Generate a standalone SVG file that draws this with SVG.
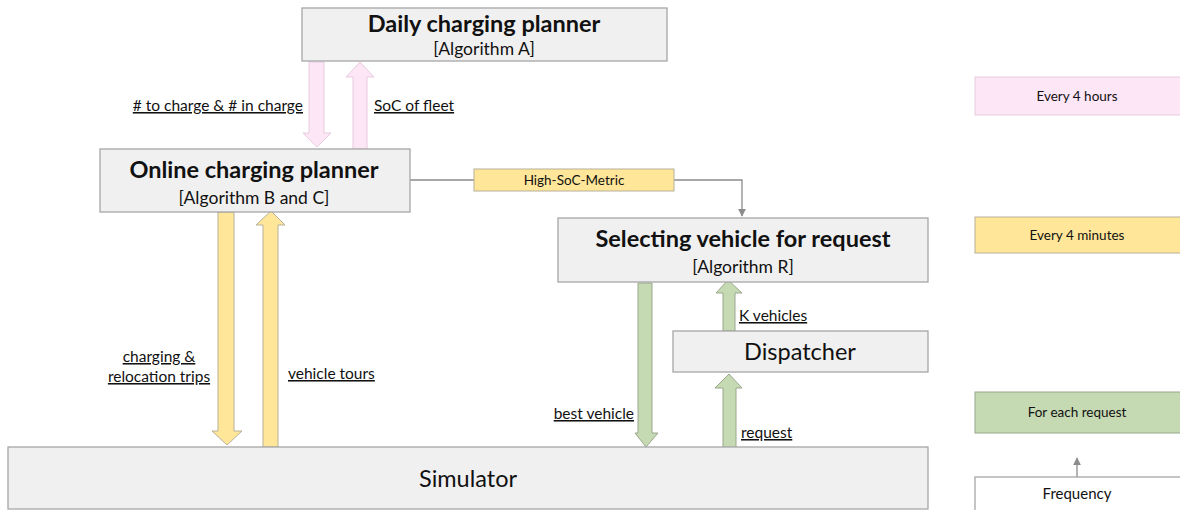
<svg xmlns="http://www.w3.org/2000/svg" width="1180" height="510" viewBox="0 0 1180 510">
<defs>
<style>
.box{fill:#f0f0f0;stroke:#a6a6a6;stroke-width:1.3}
.t{font-family:Lato,"Open Sans",sans-serif;fill:#111}
.title{font-size:23.5px;font-weight:bold;text-anchor:middle}
.sub{font-size:17.5px;text-anchor:middle}
.big{font-size:23.5px;text-anchor:middle}
.lbl{font-size:15.5px;text-decoration:underline}
.leg{font-size:13.5px;text-anchor:middle}
.pink{fill:#fde6f6;stroke:#e6cbdc;stroke-width:1}
.yel{fill:#ffe699;stroke:#b8b09a;stroke-width:1}
.grn{fill:#c5d9b2;stroke:#9aa88e;stroke-width:1}
.conn{fill:none;stroke:#8c8c8c;stroke-width:1.3}
</style>
<marker id="ah" viewBox="0 0 10 10" refX="9" refY="5" markerWidth="8" markerHeight="8" markerUnits="userSpaceOnUse" orient="auto">
<path d="M0,0 L10,5 L0,10 z" fill="#8c8c8c"/>
</marker>
</defs>

<g id="connectors">
<path class="conn" d="M410,180 H742 V216" marker-end="url(#ah)"/>
<rect x="474" y="169" width="200" height="22" class="yel"/>
<text x="574" y="185" class="t" style="font-size:13.5px;text-anchor:middle">High-SoC-Metric</text>
<path class="conn" d="M1077,477 V458" marker-end="url(#ah)"/>
<path class="pink" d="M309,62 H324 V133 H331 L317,147 L303,133 H309 Z"/>
<path class="pink" d="M360,62 L374,77 H367 V149 H353 V77 H346 Z"/>
<path class="yel" d="M218,212 H234 V431 H242 L227,445 L212,431 H218 Z"/>
<path class="yel" d="M271,211 L285,225 H278 V447 H263 V225 H256 Z"/>
<path class="grn" d="M638,283 H652 V433 H658 L646,447 L635,433 H638 Z"/>
<path class="grn" d="M728,280 L742,293 H735 V331 H723 V293 H716 Z"/>
<path class="grn" d="M729,374 L742,388 H736 V450 H723 V388 H715 Z"/>
</g>

<g id="labels">
<text x="303" y="111" class="t lbl" text-anchor="end"># to charge &amp; # in charge</text>
<text x="374" y="111" class="t lbl">SoC of fleet</text>
<text x="159" y="362" class="t lbl" text-anchor="middle">charging &amp;</text>
<text x="159" y="382" class="t lbl" text-anchor="middle">relocation trips</text>
<text x="288" y="379" class="t lbl">vehicle tours</text>
<text x="634" y="419" class="t lbl" text-anchor="end">best vehicle</text>
<text x="739" y="321" class="t lbl">K vehicles</text>
<text x="741" y="438" class="t lbl">request</text>
</g>

<g id="daily">
<rect x="302" y="8" width="365" height="53" class="box"/>
<text x="484" y="32" class="t title">Daily charging planner</text>
<text x="484" y="55" class="t sub">[Algorithm A]</text>
</g>

<g id="online">
<rect x="100" y="149" width="310" height="63" class="box"/>
<text x="254" y="178" class="t title">Online charging planner</text>
<text x="254" y="204" class="t sub">[Algorithm B and C]</text>
</g>

<g id="selecting">
<rect x="558" y="218" width="370" height="64" class="box"/>
<text x="743" y="247" class="t title">Selecting vehicle for request</text>
<text x="743" y="273" class="t sub">[Algorithm R]</text>
</g>

<g id="dispatcher">
<rect x="673" y="331" width="255" height="41" class="box"/>
<text x="800" y="360" class="t big">Dispatcher</text>
</g>

<g id="simulator">
<rect x="8" y="447" width="920" height="62" class="box"/>
<text x="468" y="487" class="t big">Simulator</text>
</g>

<g id="legend-hours">
<rect x="975" y="77" width="210" height="38" class="pink"/>
<text x="1077" y="101" class="t leg">Every 4 hours</text>
</g>
<g id="legend-minutes">
<rect x="975" y="217" width="210" height="36" class="yel"/>
<text x="1077" y="240" class="t leg">Every 4 minutes</text>
</g>
<g id="legend-request">
<rect x="975" y="392" width="210" height="41" class="grn"/>
<text x="1077" y="417" class="t leg">For each request</text>
</g>
<g id="legend-frequency">
<rect x="975" y="477" width="210" height="35" fill="#ffffff" stroke="#a6a6a6" stroke-width="1.3"/>
<text x="1077" y="499" class="t" style="font-size:15px;text-anchor:middle">Frequency</text>
</g>
</svg>
